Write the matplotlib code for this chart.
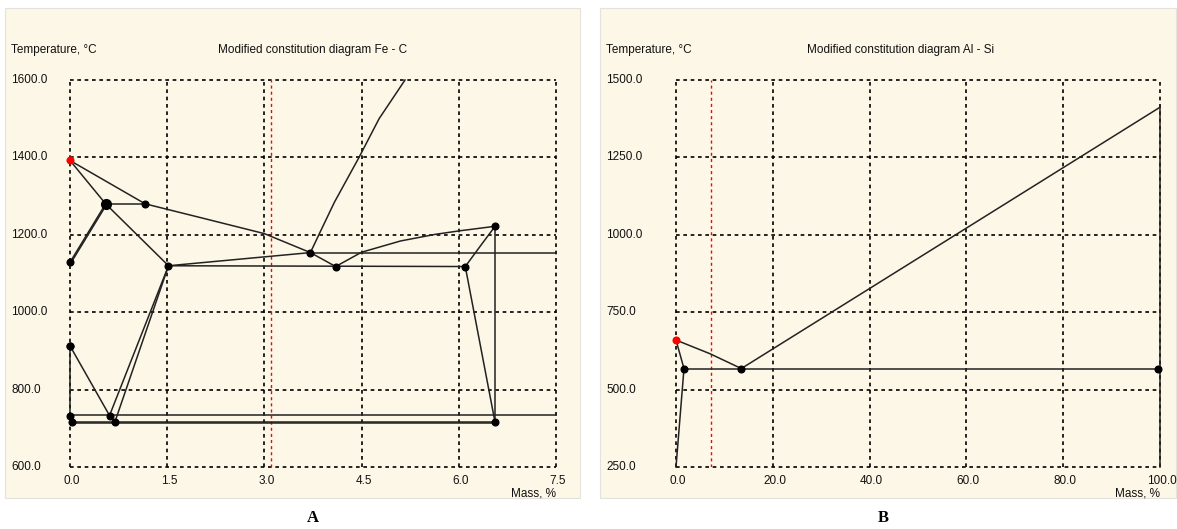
import matplotlib.pyplot as plt
from matplotlib.patches import Rectangle

W, H = 1177, 529
CREAM = '#fdf7e7'
FONT = ['Liberation Sans', 'DejaVu Sans']
FS = 8.5

# ---- Fe - C ----
fec_xticks = [0.0, 1.5, 3.0, 4.5, 6.0, 7.5]
fec_yticks = [600.0, 800.0, 1000.0, 1200.0, 1400.0, 1600.0]
fec_marker = 3.1

# phase boundary lines (mass %, temperature)
fec_lines = [
    ([0.0, 0.55], [1392, 1280]),
    ([0.0, 1.16], [1392, 1280]),
    ([0.55, 1.16], [1280, 1280]),
    ([1.16, 2.0, 3.0, 3.71], [1280, 1245, 1203, 1154]),
    ([3.71, 4.10], [1154, 1118]),
    ([4.10, 4.5, 5.1, 5.63, 6.0, 6.56], [1118, 1155, 1184, 1201, 1210, 1222]),
    ([3.71, 3.84, 4.08, 4.46, 4.77, 5.17], [1154, 1200, 1284, 1400, 1500, 1600]),
    ([0.0, 0.55], [1129, 1280]),
    ([0.02, 0.57], [1129, 1280]),
    ([0.55, 1.52], [1280, 1120]),
    ([1.52, 3.71], [1120, 1154]),
    ([1.52, 6.10], [1120, 1118]),
    ([6.10, 6.35, 6.56], [1118, 1175, 1222]),
    ([6.10, 6.56], [1118, 715]),
    ([6.56, 6.56], [1222, 715]),
    ([3.71, 7.5], [1154, 1154]),
    ([1.52, 0.61], [1120, 733]),
    ([1.52, 0.69], [1120, 715]),
    ([0.0, 0.61], [913, 733]),
    ([0.0, 0.0], [913, 715]),
    ([0.0, 7.5], [735, 735]),
    ([0.03, 6.56], [717, 717]),
    ([0.03, 6.56], [713, 713]),
]
fec_pts_x = [0.0, 1.16, 0.0, 1.52, 3.71, 4.10, 6.10, 6.56, 0.0, 0.0, 0.03, 0.61, 0.69, 6.56]
fec_pts_y = [1129, 1280, 913, 1120, 1154, 1118, 1118, 1222, 913, 733, 715, 733, 715, 715]
fec_big = (0.55, 1280)
fec_red = (0.0, 1392)

# ---- Al - Si ----
alsi_xticks = [0.0, 20.0, 40.0, 60.0, 80.0, 100.0]
alsi_yticks = [250.0, 500.0, 750.0, 1000.0, 1250.0, 1500.0]
alsi_marker = 7.2

alsi_lines = [
    ([0.0, 7.0, 13.5], [660, 616, 568]),
    ([13.5, 100.0], [568, 1412]),
    ([100.0, 100.0], [1412, 250]),
    ([0.0, 1.65], [660, 568]),
    ([1.65, 0.0], [568, 250]),
    ([1.65, 99.5], [568, 568]),
]
alsi_pts_x = [1.65, 13.5, 99.5]
alsi_pts_y = [568, 568, 568]
alsi_red = (0.0, 660)


fig = plt.figure(figsize=(W / 100, H / 100), dpi=100)


def px(x, y):
    return x / W, 1 - y / H


def panel(left, right, xticks, yticks, lines, pts_x, pts_y, red, marker,
          title, letter, title_x, letter_x, box, big=None):
    # cream panel background
    bx0, bx1 = box
    fig.patches.append(Rectangle(px(bx0, 498), (bx1 - bx0) / W, 490 / H,
                                 transform=fig.transFigure, facecolor=CREAM,
                                 edgecolor='#e4e2dc', lw=0.8, zorder=-5))
    ax = fig.add_axes([left / W, 1 - 467 / H, (right - left) / W, 387 / H])
    ax.patch.set_alpha(0)
    ax.set_xlim(xticks[0], xticks[-1])
    ax.set_ylim(yticks[0], yticks[-1])
    for s in ax.spines.values():
        s.set_visible(False)
    ax.set_xticks([])
    ax.set_yticks([])

    dash = (0, (2.2, 2.2))
    for x in xticks:
        ax.axvline(x, color='black', lw=1.2, ls=dash, zorder=1, clip_on=False)
    for y in yticks:
        ax.axhline(y, color='black', lw=1.2, ls=dash, zorder=1, clip_on=False)
    ax.axvline(marker, color='red', lw=1.0, ls=dash, zorder=1)

    for xs, ys in lines:
        ax.plot(xs, ys, color='#222222', lw=1.1, zorder=2, clip_on=False)
    ax.plot(pts_x, pts_y, 'o', color='black', ms=4.8, zorder=3, clip_on=False)
    if big is not None:
        ax.plot(*big, 'o', color='black', ms=7, zorder=3, clip_on=False)
    ax.plot(*red, 'o', color='red', ms=4.8, zorder=3, clip_on=False)

    # tick labels
    for y in yticks:
        yp = 467 - (y - yticks[0]) / (yticks[-1] - yticks[0]) * 387
        fig.text(*px(box[0] + 6, yp), f'{y:.1f}', family=FONT, fontsize=FS,
                 ha='left', va='center', color='#111111')
    for x in xticks:
        xp = left + (x - xticks[0]) / (xticks[-1] - xticks[0]) * (right - left)
        fig.text(*px(xp + 2, 481), f'{x:.1f}', family=FONT, fontsize=FS,
                 ha='center', va='center', color='#111111')

    fig.text(*px(box[0] + 6, 50), 'Temperature, \u00b0C', family=FONT,
             fontsize=FS, ha='left', va='center', color='#111111')
    fig.text(*px(title_x, 50), title, family=FONT, fontsize=FS,
             ha='center', va='center', color='#111111')
    fig.text(*px(right, 493), 'Mass, %', family=FONT, fontsize=FS,
             ha='right', va='center', color='#111111')
    fig.text(*px(letter_x, 518), letter, family='Liberation Serif',
             fontsize=12, fontweight='bold', ha='center', va='center')
    return ax


panel(70, 556, fec_xticks, fec_yticks, fec_lines, fec_pts_x, fec_pts_y,
      fec_red, fec_marker, 'Modified constitution diagram Fe - C', 'A',
      313, 313, (5, 580), big=fec_big)
panel(676, 1160, alsi_xticks, alsi_yticks, alsi_lines, alsi_pts_x, alsi_pts_y,
      alsi_red, alsi_marker, 'Modified constitution diagram Al - Si', 'B',
      901, 883, (600, 1176))

fig.savefig('out.png', dpi=100)
